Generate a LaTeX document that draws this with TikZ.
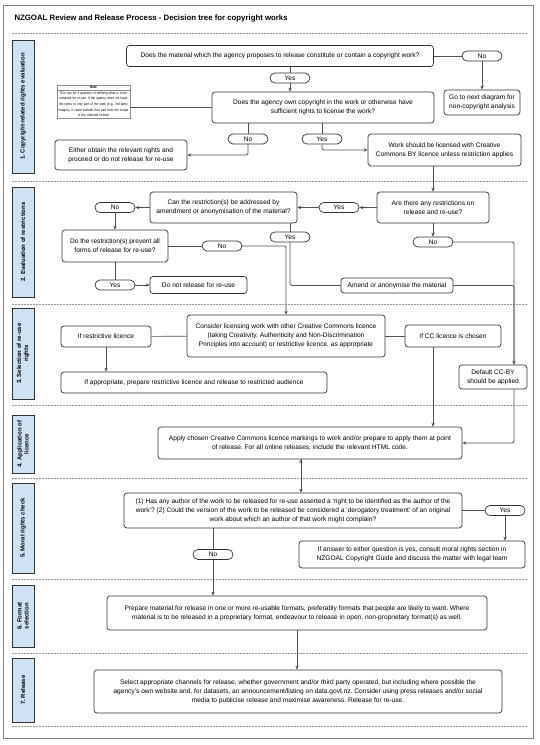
\documentclass[tikz,border=0pt]{standalone}
\usepackage{fontspec}
\setmainfont{Liberation Sans}
\newfontfamily\notefont[FakeStretch=0.85]{Liberation Sans}
\usetikzlibrary{arrows.meta,positioning,shapes.multipart}
\definecolor{sidefill}{HTML}{CFE2F3}
\definecolor{boxline}{HTML}{333333}
\definecolor{linkline}{HTML}{505050}
\frenchspacing

\begin{document}
\begin{tikzpicture}[x=1pt,y=-1pt,>={Stealth[length=4pt,width=3.4pt]},
    box/.style={draw=boxline,fill=white,rounded corners=3pt,line width=0.7pt,align=center,inner sep=1pt,
        font=\fontsize{6.6}{9}\selectfont},
    pill/.style={draw=boxline,fill=white,rounded corners=5pt,line width=0.7pt,minimum width=40pt,
        minimum height=10pt,inner sep=0pt,font=\fontsize{6.6}{7}\selectfont},
    sidebox/.style={draw=boxline,fill=sidefill,line width=0.7pt,rotate=90,align=center,inner sep=1pt,
        minimum height=22pt,font=\bfseries\fontsize{6}{7}\selectfont},
    notebox/.style={draw=black!45,fill=white,rectangle split,rectangle split parts=2,line width=0.5pt,
        text width=71pt,align=center,inner xsep=1pt,inner ysep=1.2pt,font=\notefont\fontsize{3.6}{5.6}\selectfont},
    link/.style={draw=linkline,line width=0.7pt,rounded corners=2pt},
    sepline/.style={draw=black!40,line width=0.6pt,dash pattern=on 1.5pt off 1.5pt}]

    \useasboundingbox (0,0) rectangle (539,745);
    \draw[black!50,line width=0.7pt] (3,5) rectangle (533,738);

    \node[anchor=west,font=\bfseries\fontsize{7.8}{9}\selectfont] (title) at (11,18)
        {NZGOAL Review and Release Process - Decision tree for copyright works};

    % section separators
    \foreach \y in {33,181,304,405,478,579,653,726}
        \draw[sepline] (12,\y) -- (528,\y);

    % section labels
    \node[sidebox,minimum width=133pt] (s1) at (23,106.5) {1. Copyright-related rights evaluation};
    \node[sidebox,minimum width=110pt] (s2) at (23,242) {2. Evaluation of restrictions};
    \node[sidebox,minimum width=91pt] (s3) at (23,353.5) {3. Selection of re-use\\rights};
    \node[sidebox,minimum width=58pt] (s4) at (23,444) {4. Application of\\licence};
    \node[sidebox,minimum width=90pt] (s5) at (23,528) {5. Moral rights check};
    \node[sidebox,minimum width=62pt] (s6) at (23,616) {6. Format\\selection};
    \node[sidebox,minimum width=64pt] (s7) at (23,690) {7. Release};

    % 1. copyright-related rights evaluation
    \node[box,minimum width=307pt,minimum height=21pt] (q1) at (280,56)
        {Does the material which the agency proposes to release constitute or contain a copyright work?};

    \node[pill] (no1) at (482,56) {No};

    \node[box,minimum width=76pt,minimum height=25pt] (nextdiag) at (482,102.5)
        {Go to next diagram for\\non-copyright analysis};

    \node[pill] (yes1) at (290,78) {Yes};

    \node[box,minimum width=222pt,minimum height=31pt] (q2) at (323,107.5)
        {Does the agency own copyright in the work or otherwise have\\sufficient rights to license the work?};

    \node[notebox] (note) at (93.5,101.5)
        {\textbf{Note}\nodepart{two}This can be a question of defining what is to be\\released for re-use. If the agency does not have\\the rights to only part of the work (e.g., 3rd party\\images), it could exclude that part from the scope\\of the selected licence};

    \node[pill] (no2) at (248,139) {No};

    \node[box,minimum width=132pt,minimum height=30pt] (obtain) at (121,155)
        {Either obtain the relevant rights and\\proceed or do not release for re-use};

    \node[pill] (yes2) at (322,139) {Yes};

    \node[box,minimum width=153pt,minimum height=32pt] (ccby) at (444.5,150)
        {Work should be licensed with Creative\\Commons BY licence unless restriction applies};

    % 2. evaluation of restrictions
    \node[box,minimum width=112pt,minimum height=31pt] (restr) at (433,207.5)
        {Are there any restrictions on\\release and re-use?};

    \node[pill] (yes3) at (339,207.5) {Yes};

    \node[box,minimum width=147pt,minimum height=31pt] (amendq) at (223.5,207.5)
        {Can the restriction(s) be addressed by\\amendment or anonymisation of the material?};

    \node[pill] (no3) at (115,207.5) {No};

    \node[box,minimum width=106pt,minimum height=32pt] (prevent) at (115,246)
        {Do the restriction(s) prevent all\\forms of release for re-use?};

    \node[pill] (yes4) at (290,237) {Yes};

    \node[pill] (no4) at (222,246) {No};

    \node[pill] (yes5) at (115,285) {Yes};

    \node[box,minimum width=97pt,minimum height=17pt] (norelease) at (198.5,285)
        {Do not release for re-use};

    \node[box,minimum width=112pt,minimum height=15pt] (amend) at (397,285.5)
        {Amend or anonymise the material};

    \node[pill] (no5) at (433,242) {No};

    % 3. selection of re-use rights
    \node[box,minimum width=198pt,minimum height=42pt] (consider) at (286,336)
        {Consider licensing work with other Creative Commons licence\\(taking Creativity, Authenticity and Non-Discrimination\\Principles into account) or restrictive licence, as appropriate};

    \node[box,minimum width=90pt,minimum height=21pt] (restrlic) at (106,336.5) {If restrictive licence};

    \node[box,minimum width=96pt,minimum height=22pt] (cclic) at (453,336) {If CC licence is chosen};

    \node[box,minimum width=266pt,minimum height=21pt] (prepare) at (194,382.5)
        {If appropriate, prepare restrictive licence and release to restricted audience};

    \node[box,minimum width=68pt,minimum height=24pt] (default) at (493,377)
        {Default CC-BY\\should be applied};

    % 4. application of licence
    \node[box,minimum width=304pt,minimum height=32pt] (apply) at (310,443)
        {Apply chosen Creative Commons licence markings to work and/or prepare to apply them at point\\of release. For all online releases, include the relevant HTML code.};

    % 5. moral rights check
    \node[box,minimum width=338pt,minimum height=35pt] (moral) at (293,510.5)
        {(1) Has any author of the work to be released for re-use asserted a `right to be identified as the author of the\\work'? (2) Could the version of the work to be released be considered a `derogatory treatment' of an original\\work about which an author of that work might complain?};

    \node[pill] (yes6) at (505,510.5) {Yes};

    \node[box,minimum width=226pt,minimum height=27pt] (consult) at (412,554.5)
        {If answer to either question is yes, consult moral rights section in\\NZGOAL Copyright Guide and discuss the matter with legal team};

    \node[pill] (no6) at (213,554.5) {No};

    % 6. format selection
    \node[box,minimum width=380pt,minimum height=34pt] (format) at (297,613)
        {Prepare material for release in one or more re-usable formats, preferably formats that people are likely to want. Where\\material is to be released in a proprietary format, endeavour to release in open, non-proprietary format(s) as well.};

    % 7. release
    \node[box,minimum width=408pt,minimum height=43pt] (release) at (298,691.5)
        {Select appropriate channels for release, whether government and/or third party operated, but including where possible the\\agency's own website and, for datasets, an announcement/listing on data.govt.nz. Consider using press releases and/or social\\media to publicise release and maximise awareness. Release for re-use.};

    % connectors
    \path[link] (q1) edge (no1)
                (q1.south -| yes1) edge (yes1)
                (q2.west) edge (q2.west -| note.east)
                (q2.south -| no2) edge (no2)
                (q2.south -| yes2) edge (yes2)
                (amendq.south -| yes4) edge (yes4)
                (prevent) edge (no4)
                (prevent) edge (yes5)
                (consider) edge (restrlic)
                (consider) edge (cclic)
                (moral) edge (yes6)
                (moral.south -| no6) edge (no6);

    \path[link,->] (no1) edge (nextdiag)
                   (yes1) edge (yes1 |- q2.north)
                   (ccby.south -| restr) edge (restr.north)
                   (restr) edge (yes3)
                   (yes3) edge (amendq)
                   (amendq) edge (no3)
                   (no3) edge (prevent)
                   (restr) edge (no5)
                   (yes5) edge (norelease)
                   (restrlic) edge (restrlic |- prepare.north)
                   ([xshift=-20pt]cclic.south) edge ([xshift=-20pt]cclic.south |- apply.north)
                   ([xshift=-9pt]apply.south) edge ([xshift=-9pt]apply.south |- moral.north)
                   (yes6) edge (yes6 |- consult.north)
                   (no6) edge (no6 |- format.north);

    \draw[link,->] (format.south) -- (format.south |- release.north);
    \draw[link,->] (no2) |- (obtain.east);
    \draw[link,->] (yes2) |- (ccby.west);
    \draw[link] (yes4) |- (amend.west);
    \draw[link,->] (no4) -| (consider.north);
    \draw[link,->] (no5) -| ([xshift=21pt]default.north);
    \draw[link] (amend.east) -| ([xshift=21pt]default.north);
    \draw[link,->] ([xshift=21pt]default.south) |- (apply.east);

\end{tikzpicture}
\end{document}
